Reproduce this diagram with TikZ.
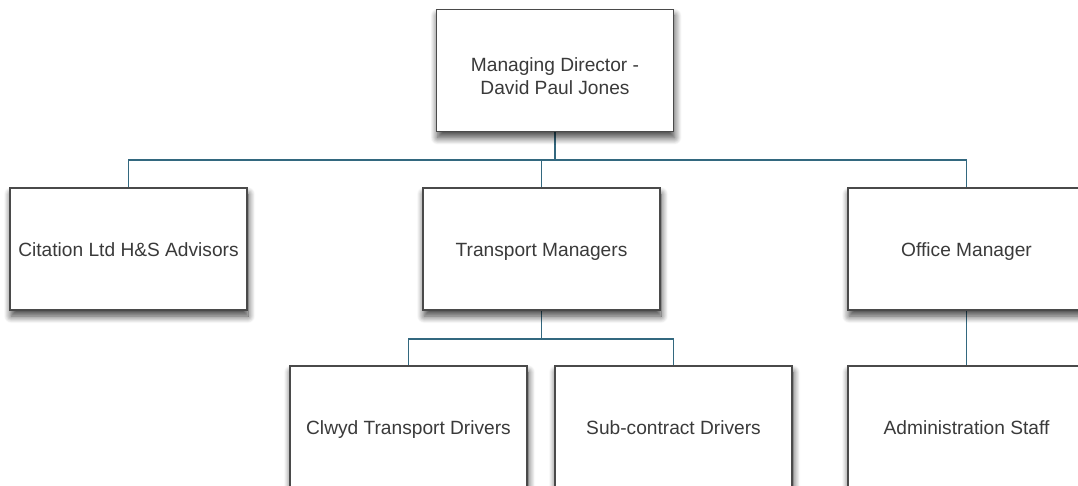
\documentclass[tikz,border=0pt]{standalone}
\usepackage{fontspec}
\setmainfont{Liberation Sans}
\usepackage{tikz}
\usetikzlibrary{shadows.blur}
\pgfdeclarelayer{bg}
\pgfsetlayers{bg,main}
\definecolor{linkblue}{HTML}{33687F}
\definecolor{boxgrey}{HTML}{4A4A4A}
\definecolor{txtgrey}{HTML}{3A3A3A}
\tikzset{
    every node/.style={rectangle, draw=boxgrey, line width=0.9pt, fill=white, minimum width=4.74cm, minimum height=2.44cm, align=center, text=txtgrey, text height=9pt, text depth=0.5pt, font=\fontsize{10.9}{13.4}\selectfont, blur shadow={shadow xshift=0.6pt, shadow yshift=-3.5pt, shadow blur radius=4pt, shadow blur steps=12, shadow opacity=75}}
}
\tikzset{link/.style={draw=linkblue, line width=0.9pt}}
\tikzset{twoline/.style={text height=27.8pt, text depth=0pt}}

\begin{document}
\begin{tikzpicture}[x=0.02cm, y=-0.02cm]
        \clip (0,0) rectangle (1078,486);
        \useasboundingbox (0,0) rectangle (1078,486);
        \node (md) [twoline] at (555, 70.5) {Managing Director -\\David Paul Jones};
        \node (hs) at (128.5, 249) {Citation Ltd H\&S Advisors};
        \node (tm) at (541.5, 249) {Transport Managers};
        \node (om) at (966.5, 249) {Office Manager};
        \node (cd) at (408.5, 427) {Clwyd Transport Drivers};
        \node (sd) at (673.5, 427) {Sub-contract Drivers};
        \node (as) at (966.5, 427) {Administration Staff};
        \coordinate (j1) at (555, 160);
        \coordinate (j2) at (541.5, 339);
        \begin{pgfonlayer}{bg}
                \draw [link] (md) -- (j1);
                \draw [link] (j1) -| (hs.north);
                \draw [link] (j1) -| (tm.north);
                \draw [link] (j1) -| (om.north);
                \draw [link] (tm) -- (j2);
                \draw [link] (j2) -| (cd.north);
                \draw [link] (j2) -| (sd.north);
                \draw [link] (om) -- (as);
        \end{pgfonlayer}
\end{tikzpicture}
\end{document}
